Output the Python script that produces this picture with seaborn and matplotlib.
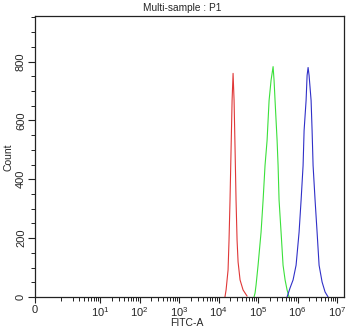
import numpy as np
import pandas as pd
import matplotlib
matplotlib.use("Agg")
import matplotlib.pyplot as plt
import seaborn as sns

# FITC-A intensity (channel units) and event counts for each sample
red_x = [14500, 15500, 17400, 18400, 19500, 20700, 22000, 23300, 24700,
         26200, 27700, 29400, 31200, 35000, 41700, 52700]
red_y = [0, 24, 92, 193, 329, 498, 668, 760, 668, 498, 329, 193, 119, 58, 24, 3]

green_x = [79000, 84000, 89000, 100000, 119000, 134000, 150000, 169000, 190000,
           213000, 240000, 254000, 269000, 303000, 321000, 340000, 382000,
           429000, 483000, 542000, 609000]
green_y = [0, 14, 41, 108, 220, 329, 447, 532, 668, 736, 783, 736, 668, 532,
           447, 329, 220, 108, 58, 24, 0]

blue_x = [542000, 646000, 769000, 916000, 1091000, 1227000, 1378000, 1462000,
          1642000, 1741000, 1845000, 1955000, 2198000, 2329000, 2468000,
          2773000, 3117000, 3501000, 4171000, 4968000, 5918000]
blue_y = [0, 31, 58, 108, 220, 329, 447, 566, 668, 753, 780, 753, 668, 566,
          447, 329, 220, 108, 51, 17, 0]

x_ticks = [0, 1e1, 1e2, 1e3, 1e4, 1e5, 1e6, 1e7]
x_tick_labels = ["0", "$10^{1}$", "$10^{2}$", "$10^{3}$", "$10^{4}$",
                 "$10^{5}$", "$10^{6}$", "$10^{7}$"]
y_ticks = [0, 200, 400, 600, 800]

df = pd.concat([
    pd.DataFrame({"FITC-A": red_x, "Count": red_y, "sample": "red"}),
    pd.DataFrame({"FITC-A": green_x, "Count": green_y, "sample": "green"}),
    pd.DataFrame({"FITC-A": blue_x, "Count": blue_y, "sample": "blue"}),
], ignore_index=True)

sns.set_style("ticks")
plt.rcParams["font.family"] = ["Liberation Sans", "DejaVu Sans"]
plt.rcParams["mathtext.fontset"] = "custom"
plt.rcParams["mathtext.rm"] = "Liberation Sans"
plt.rcParams["mathtext.it"] = "Liberation Sans"

# biexponential-like display: linear near zero, logarithmic above
C = 0.226
LN10 = np.log(10.0)


def fwd(v):
    return np.arcsinh(np.asarray(v, dtype=float) / (2 * C)) / LN10


def inv(u):
    return 2 * C * np.sinh(np.asarray(u, dtype=float) * LN10)


fig = plt.figure(figsize=(3.5, 3.3), dpi=100)
ax = fig.add_axes([0.1, 0.1, 0.883, 0.8515])

sns.lineplot(data=df, x="FITC-A", y="Count", hue="sample",
             palette={"red": "#e03838", "green": "#3be03b", "blue": "#3030c8"},
             estimator=None, sort=False, linewidth=0.8, legend=False, ax=ax)

ax.set_xscale("function", functions=(fwd, inv))
ax.set_xlim(0, 1.5e7)
ax.set_ylim(0, 955)

ax.set_xticks(x_ticks)
ax.set_xticklabels(x_tick_labels)
minor_x = [m * 10.0 ** k for k in range(0, 7) for m in range(1, 10)
           if not (m == 1 and k > 0)]
ax.set_xticks(minor_x, minor=True)
ax.set_yticks(y_ticks)
ax.set_yticks(np.arange(0, 951, 50), minor=True)
for lab in ax.get_yticklabels():
    lab.set_rotation(90)
    lab.set_va("center")

ax.tick_params(axis="both", which="major", direction="out", labelsize=8,
               width=0.8, color="#222222")
ax.tick_params(axis="x", which="major", length=4, pad=2)
ax.tick_params(axis="y", which="major", length=5, pad=1.5)
ax.tick_params(axis="both", which="minor", direction="out", length=3,
               width=0.7, color="#222222")

for sp in ax.spines.values():
    sp.set_visible(True)
    sp.set_linewidth(0.9)
    sp.set_color("#222222")

ax.set_xlabel("")
ax.set_ylabel("")
fig.text(187 / 350, 1 - 323 / 330, "FITC-A", ha="center", va="center",
         fontsize=7.5)
fig.text(8 / 350, 1 - 157 / 330, "Count", ha="center", va="center",
         rotation=90, fontsize=7.5)
fig.text(182 / 350, 1 - 8 / 330, "Multi-sample : P1", ha="center",
         va="center", fontsize=7.3)

fig.savefig("out.png", dpi=100)
